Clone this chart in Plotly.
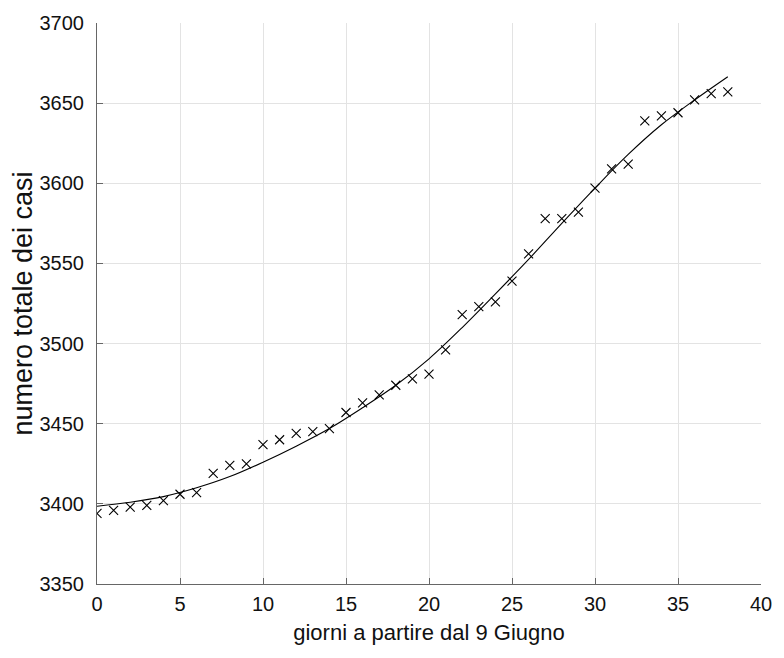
import plotly.graph_objects as go

# observed data: days since 9 June, total cases
days = list(range(0, 39))
cases = [3394, 3396, 3398, 3399, 3402, 3406, 3407, 3419, 3424, 3425,
         3437, 3440, 3444, 3445, 3447, 3457, 3463, 3468, 3474, 3478,
         3481, 3496, 3518, 3523, 3526, 3539, 3556, 3578, 3578, 3582,
         3597, 3609, 3612, 3639, 3642, 3644, 3652, 3656, 3657]

# fitted curve
fit_x = [0, 2, 4, 6, 8, 10, 12, 14, 16, 18, 20, 22, 24, 26, 28, 30, 32, 34, 36, 38]
fit_y = [3398.5, 3401, 3404.5, 3410, 3417, 3426, 3436, 3447, 3460, 3474,
         3490.5, 3510, 3531, 3552.5, 3575, 3597, 3618, 3636.5, 3652, 3666.5]

x_ticks = [0, 5, 10, 15, 20, 25, 30, 35, 40]
y_ticks = [3350, 3400, 3450, 3500, 3550, 3600, 3650, 3700]

FONT = "Liberation Sans, Arial, Helvetica, sans-serif"
TXT = "#111111"

fig = go.Figure()
fig.add_trace(go.Scatter(
    x=fit_x, y=fit_y, mode="lines", line=dict(color="black", width=1.1, shape="spline"),
    hoverinfo="skip", showlegend=False))
fig.add_trace(go.Scatter(
    x=days, y=cases, mode="markers",
    marker=dict(symbol="x-thin-open", size=9, color="black",
                line=dict(color="black", width=1.1)),
    showlegend=False))

axis_common = dict(
    showgrid=True, gridcolor="#e3e3e3", gridwidth=1,
    showline=True, linecolor="#666666", linewidth=1,
    ticks="inside", ticklen=6, tickcolor="#666666",
    zeroline=False, tickfont=dict(family=FONT, size=20, color=TXT),
    mirror=False, automargin=False,
)

fig.update_xaxes(range=[0, 40], tickvals=x_ticks, ticklabelstandoff=2, **axis_common,
                 title=dict(text="giorni a partire dal 9 Giugno",
                            font=dict(family=FONT, size=22, color=TXT), standoff=10))
fig.update_yaxes(range=[3350, 3700], tickvals=y_ticks, ticklabelstandoff=8, **axis_common,
                 title=dict(text="numero totale dei casi",
                            font=dict(family=FONT, size=27, color=TXT), standoff=1))

fig.update_layout(
    width=784, height=658,
    margin=dict(l=89, r=31, t=15, b=82),
    plot_bgcolor="white", paper_bgcolor="white",
    font=dict(family=FONT),
)

fig.write_html("out.html")
